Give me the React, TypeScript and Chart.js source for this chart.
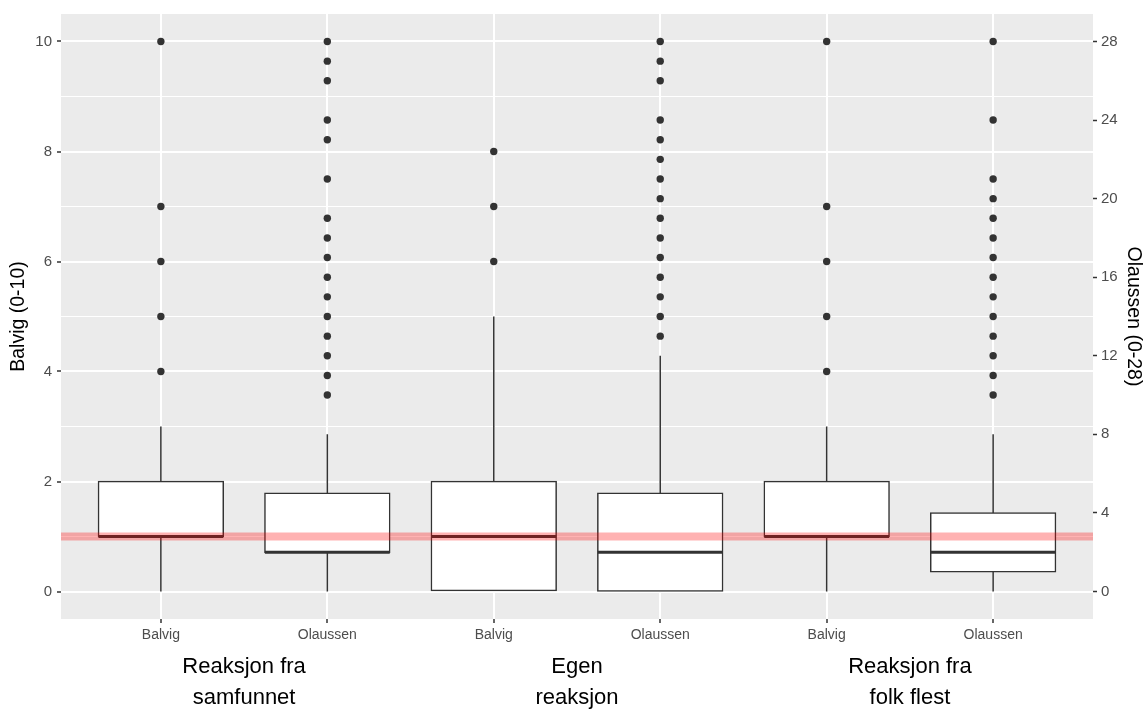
import React, { useEffect, useRef } from 'react';
import { Chart, registerables } from 'chart.js';

Chart.register(...registerables);

// ---------- data ----------
const categories = ['Balvig', 'Olaussen', 'Balvig', 'Olaussen', 'Balvig', 'Olaussen'];
const groupLabels = [['Reaksjon fra', 'samfunnet'], ['Egen', 'reaksjon'], ['Reaksjon fra', 'folk flest']];
const groupCenters = [1.5, 3.5, 5.5];

// Balvig (0-10) boxes at category positions 1, 3, 5
const balvigPos = [1, 3, 5];
const balvigLow = [0, 0, 0];
const balvigQ1 = [1, 0, 1];
const balvigMedian = [1, 1, 1];
const balvigQ3 = [2, 2, 2];
const balvigHigh = [3, 5, 3];
const balvigOutliers = [
  [4, 5, 6, 7, 10],
  [6, 7, 8],
  [4, 5, 6, 7, 10],
];

// Olaussen (0-28) boxes at category positions 2, 4, 6
const olaussenPos = [2, 4, 6];
const olaussenLow = [0, 0, 0];
const olaussenQ1 = [2, 0, 1];
const olaussenMedian = [2, 2, 2];
const olaussenQ3 = [5, 5, 4];
const olaussenHigh = [8, 12, 8];
const olaussenOutliers = [
  [10, 11, 12, 13, 14, 15, 16, 17, 18, 19, 21, 23, 24, 26, 27, 28],
  [13, 14, 15, 16, 17, 18, 19, 20, 21, 22, 23, 24, 26, 27, 28],
  [10, 11, 12, 13, 14, 15, 16, 17, 18, 19, 20, 21, 24, 28],
];

const leftTicks = [0, 1, 2, 3, 4, 5, 6, 7, 8, 9, 10];
const rightTicks = [0, 4, 8, 12, 16, 20, 24, 28];
const referenceValue = 1;

const leftMin = -0.5;
const leftMax = 10.5;
const rightFactor = 2.8;
const xMin = 0.4;
const xMax = 6.6;
const boxWidth = 0.75;

// ---------- helpers ----------
type P = { x: number; y: number | null };
function boxData(pos: number[], q1: number[], q3: number[]) {
  return pos.map((x, i) => ({ x, y: [q1[i], q3[i]] }));
}
function whiskerData(pos: number[], lo: number[], q1: number[], q3: number[], hi: number[]) {
  const out: P[] = [];
  pos.forEach((x, i) => {
    out.push({ x, y: q3[i] }, { x, y: hi[i] }, { x, y: null });
    out.push({ x, y: q1[i] }, { x, y: lo[i] }, { x, y: null });
  });
  return out;
}
function medianData(pos: number[], med: number[]) {
  const out: P[] = [];
  pos.forEach((x, i) => {
    out.push({ x: x - boxWidth / 2, y: med[i] }, { x: x + boxWidth / 2, y: med[i] }, { x, y: null });
  });
  return out;
}
function outlierData(pos: number[], outs: number[][]) {
  const out: P[] = [];
  pos.forEach((x, i) => outs[i].forEach((v) => out.push({ x, y: v })));
  return out;
}

const FONT = 'Liberation Sans, Arial, Helvetica, sans-serif';
const DARK = '#333333';
const TICKTXT = '#4D4D4D';

const panelBg = {
  id: 'panelBg',
  beforeDraw(chart: any) {
    const { ctx, chartArea } = chart;
    ctx.save();
    ctx.fillStyle = '#EBEBEB';
    ctx.fillRect(chartArea.left, chartArea.top, chartArea.right - chartArea.left, chartArea.bottom - chartArea.top);
    ctx.restore();
  },
};

export default function App() {
  const ref = useRef<HTMLCanvasElement>(null);
  useEffect(() => {
    document.body.style.margin = '0';
    const boxCommon = {
      type: 'bar' as const,
      backgroundColor: '#FFFFFF',
      borderColor: DARK,
      borderWidth: 1.5,
      borderSkipped: false,
      inflateAmount: 0.75,
      barPercentage: boxWidth,
      categoryPercentage: 1,
      grouped: false,
      order: 5,
    };
    const lineCommon = {
      type: 'line' as const,
      borderColor: DARK,
      pointRadius: 0,
      spanGaps: false,
      fill: false,
      tension: 0,
    };
    const chart = new Chart(ref.current!, {
      type: 'bar',
      data: {
        datasets: [
          { ...boxCommon, label: 'Balvig', yAxisID: 'y', data: boxData(balvigPos, balvigQ1, balvigQ3) as any },
          { ...boxCommon, label: 'Olaussen', yAxisID: 'y2', data: boxData(olaussenPos, olaussenQ1, olaussenQ3) as any },
          { ...lineCommon, label: 'wb', yAxisID: 'y', borderWidth: 1.5, order: 4, data: whiskerData(balvigPos, balvigLow, balvigQ1, balvigQ3, balvigHigh) as any },
          { ...lineCommon, label: 'wo', yAxisID: 'y2', borderWidth: 1.5, order: 4, data: whiskerData(olaussenPos, olaussenLow, olaussenQ1, olaussenQ3, olaussenHigh) as any },
          { ...lineCommon, label: 'mb', yAxisID: 'y', borderWidth: 3, order: 3, data: medianData(balvigPos, balvigMedian) as any },
          { ...lineCommon, label: 'mo', yAxisID: 'y2', borderWidth: 3, order: 3, data: medianData(olaussenPos, olaussenMedian) as any },
          {
            type: 'scatter', label: 'ob', yAxisID: 'y', order: 2,
            data: outlierData(balvigPos, balvigOutliers) as any,
            pointRadius: 3.7, pointBackgroundColor: DARK, pointBorderWidth: 0, borderWidth: 0,
          } as any,
          {
            type: 'scatter', label: 'oo', yAxisID: 'y2', order: 2,
            data: outlierData(olaussenPos, olaussenOutliers) as any,
            pointRadius: 3.7, pointBackgroundColor: DARK, pointBorderWidth: 0, borderWidth: 0,
          } as any,
          {
            ...lineCommon, label: 'ref', yAxisID: 'y', order: 0,
            borderColor: 'rgba(255,0,0,0.3)', borderWidth: 8, borderCapStyle: 'butt',
            data: [{ x: xMin, y: referenceValue }, { x: xMax, y: referenceValue }] as any,
          },
        ] as any,
      },
      options: {
        responsive: false,
        devicePixelRatio: 1,
        animation: false,
        events: [],
        layout: { padding: { top: 14, left: 0, right: 0, bottom: 0 } },
        plugins: { legend: { display: false }, tooltip: { enabled: false }, title: { display: false } },
        scales: {
          x: {
            type: 'linear',
            position: 'bottom',
            min: xMin,
            max: xMax,
            offset: false,
            weight: 0,
            border: { display: false },
            grid: { color: '#FFFFFF', lineWidth: 2, tickColor: DARK, tickLength: 4, tickWidth: 1.5, offset: false },
            afterBuildTicks: (s: any) => { s.ticks = categories.map((_, i) => ({ value: i + 1 })); },
            afterFit: (s: any) => { s.height = 30; },
            ticks: {
              autoSkip: false, maxRotation: 0, minRotation: 0, padding: 3.6, color: TICKTXT,
              font: { family: FONT, size: 14 },
              callback: (v: any) => categories[Math.round(Number(v)) - 1],
            },
          },
          x2: {
            type: 'linear',
            axis: 'x',
            position: 'bottom',
            min: xMin,
            max: xMax,
            offset: false,
            weight: 1,
            border: { display: false },
            grid: { display: false, drawTicks: false, drawOnChartArea: false },
            afterBuildTicks: (s: any) => { s.ticks = groupCenters.map((v) => ({ value: v })); },
            afterFit: (s: any) => { s.height = 61; },
            ticks: {
              autoSkip: false, maxRotation: 0, minRotation: 0, padding: 2.5, color: '#000000',
              font: { family: FONT, size: 22, lineHeight: 1.41 },
              callback: (_v: any, i: number) => groupLabels[i],
            },
          } as any,
          y: {
            type: 'linear',
            position: 'left',
            min: leftMin,
            max: leftMax,
            border: { display: false },
            grid: {
              color: '#FFFFFF',
              lineWidth: (c: any) => (c.tick && c.tick.value % 2 === 0 ? 2 : 1),
              tickColor: (c: any) => (c.tick && c.tick.value % 2 === 0 ? DARK : 'rgba(0,0,0,0)'),
              tickLength: 4,
              tickWidth: 1.5,
            },
            afterBuildTicks: (s: any) => { s.ticks = leftTicks.map((v) => ({ value: v })); },
            afterFit: (s: any) => { s.width = 61; },
            ticks: {
              autoSkip: false, padding: 5, color: TICKTXT, font: { family: FONT, size: 15 },
              callback: (v: any) => (Number(v) % 2 === 0 ? String(v) : ''),
            },
            title: {
              display: true, text: 'Balvig (0-10)', color: '#000000',
              font: { family: FONT, size: 19.5 }, padding: { top: 7.3, bottom: 0 },
            },
          },
          y2: {
            type: 'linear',
            position: 'right',
            min: leftMin * rightFactor,
            max: leftMax * rightFactor,
            border: { display: false },
            grid: { drawOnChartArea: false, tickColor: DARK, tickLength: 4, tickWidth: 1.5 },
            afterBuildTicks: (s: any) => { s.ticks = rightTicks.map((v) => ({ value: v })); },
            afterFit: (s: any) => { s.width = 55; },
            ticks: { autoSkip: false, padding: 4, color: TICKTXT, font: { family: FONT, size: 15 } },
            title: {
              display: true, text: 'Olaussen (0-28)', color: '#000000',
              font: { family: FONT, size: 19.5 }, padding: { top: 3.3, bottom: 0 },
            },
          },
        } as any,
      },
      plugins: [panelBg],
    });
    return () => chart.destroy();
  }, []);
  return (
    <div style={{ position: 'absolute', left: 0, top: 0, width: 1148, height: 710, background: '#FFFFFF' }}>
      <canvas ref={ref} width={1148} height={710} style={{ width: 1148, height: 710, display: 'block' }} />
    </div>
  );
}
